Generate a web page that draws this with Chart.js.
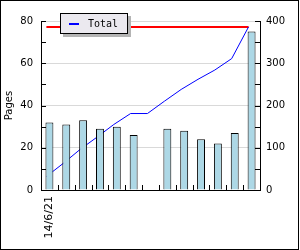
<!DOCTYPE html>
<html><head><meta charset="utf-8">
<script src="https://cdn.jsdelivr.net/npm/chart.js@4"></script>
<style>html,body{margin:0;padding:0;background:#fff}#w{width:300px;height:250px}</style>
</head><body><div id="w"><canvas id="c" width="300" height="250"></canvas></div>
<script>
// ---- data ----
const categories = ['14/6/21','','','','','','','','','','','',''];
const pages      = [32, 31, 33, 29, 30, 26, 0, 29, 28, 24, 22, 27, 75];
const cumulative = [32, 63, 96, 125, 155, 181, 181, 210, 238, 262, 284, 311, 386];
const totalLevel = [386, 386, 386, 386, 386, 386, 386, 386, 386, 386, 386, 386, 386];
const leftTicks  = [0, 20, 40, 60, 80];
const rightTicks = [0, 100, 200, 300, 400];
const seriesName = 'Total';
const axisTitle  = 'Pages';

// ---- style ----
const LINE_SHIFT = -0.18; // lines sit at the left edge of each bar
const FONT = 'DejaVu Sans';

const toPts = arr => arr.map((v, i) => ({x: i + LINE_SHIFT, y: v}));

const decor = {
  id: 'decor',
  afterDraw(chart) {
    const ctx = chart.ctx;
    const x = chart.scales.x, y = chart.scales.y, y1 = chart.scales.y1;
    ctx.save();
    ctx.strokeStyle = '#000';
    ctx.lineWidth = 1;
    ctx.beginPath();
    for (let i = 1; i < categories.length; i++) {
      const px = Math.round((x.getPixelForTick(i - 1) + x.getPixelForTick(i)) / 2) + 0.5;
      ctx.moveTo(px, y.bottom); ctx.lineTo(px, y.bottom - 5);
    }
    for (let v = y.min; v <= y.max; v += 10) {
      const py = Math.round(y.getPixelForValue(v)) + 0.5;
      ctx.moveTo(y.right, py); ctx.lineTo(y.right + 5, py);
    }
    for (let v = y1.min; v <= y1.max; v += 50) {
      const py = Math.round(y1.getPixelForValue(v)) + 0.5;
      ctx.moveTo(y1.left, py); ctx.lineTo(y1.left - 5, py);
    }
    ctx.stroke();
    // legend box
    ctx.fillStyle = '#b4b4b4';
    ctx.fillRect(63, 16, 68, 21);
    ctx.fillStyle = '#ebe9ef';
    ctx.fillRect(60, 13, 68, 21);
    ctx.strokeRect(60.5, 13.5, 67, 20);
    ctx.strokeStyle = '#0000ff';
    ctx.lineWidth = 2;
    ctx.beginPath(); ctx.moveTo(69, 24); ctx.lineTo(79, 24); ctx.stroke();
    ctx.fillStyle = '#000';
    ctx.font = '10px "DejaVu Sans Mono"';
    ctx.textBaseline = 'middle';
    ctx.fillText(seriesName, 88, 24);
    // outer frame
    ctx.strokeStyle = '#000';
    ctx.lineWidth = 1;
    ctx.strokeRect(0.5, 0.5, 298, 249);
    ctx.restore();
  }
};

Chart.defaults.font.family = FONT;
Chart.defaults.font.size = 9;
Chart.defaults.color = '#000';

new Chart(document.getElementById('c'), {
  type: 'line',
  data: {
    labels: categories,
    datasets: [
      {
        type: 'bar', label: 'Pages', data: pages,
        backgroundColor: '#add8e6', borderColor: '#000', borderWidth: 1,
        barPercentage: 0.47, categoryPercentage: 1, grouped: false,
        xAxisID: 'x', yAxisID: 'y', order: 0
      },
      {
        type: 'line', label: seriesName, data: toPts(cumulative),
        borderColor: '#0000ff', borderWidth: 1, pointRadius: 0, tension: 0,
        xAxisID: 'xl', yAxisID: 'y1', order: 1
      },
      {
        type: 'line', label: 'level', data: toPts(totalLevel),
        borderColor: '#ff0000', borderWidth: 2, pointRadius: 0, tension: 0,
        xAxisID: 'xl', yAxisID: 'y1', order: 2
      }
    ]
  },
  options: {
    responsive: false,
    animation: false,
    devicePixelRatio: 1,
    layout: {padding: {top: 21, left: 0, right: 0, bottom: 0}},
    plugins: {legend: {display: false}, tooltip: {enabled: false}},
    scales: {
      x: {
        type: 'category', offset: true,
        grid: {display: false, drawTicks: false, offset: true},
        border: {display: true, color: '#000', width: 1},
        ticks: {autoSkip: false, minRotation: 90, maxRotation: 90, padding: 6, font: {size: 11}},
        afterFit(s) { s.height = 60; }
      },
      xl: {
        type: 'linear', display: false, offset: false,
        min: -0.5, max: categories.length - 0.5
      },
      y: {
        position: 'left', min: 0, max: 80,
        afterBuildTicks(s) { s.ticks = leftTicks.map(v => ({value: v})); },
        grid: {color: '#d9d9d9', drawTicks: false},
        border: {display: true, color: '#000', width: 1},
        ticks: {padding: 8, font: {size: 10}},
        title: {display: true, text: axisTitle, font: {size: 10}, padding: {top: 3, bottom: 0}},
        afterFit(s) { s.width = 41; }
      },
      y1: {
        position: 'right', min: 0, max: 400,
        afterBuildTicks(s) { s.ticks = rightTicks.map(v => ({value: v})); },
        grid: {display: false, drawTicks: false},
        border: {display: true, color: '#000', width: 1},
        ticks: {padding: 6, font: {size: 10}},
        afterFit(s) { s.width = 40; }
      }
    }
  },
  plugins: [decor]
});
</script>
</body></html>
